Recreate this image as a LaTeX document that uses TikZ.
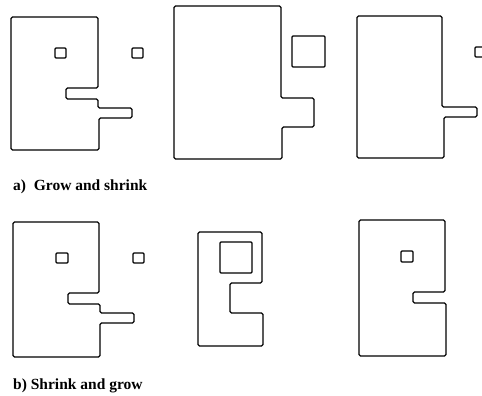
\documentclass[tikz,border=0pt]{standalone}
\usepackage{fontspec}
\setmainfont{Liberation Serif}
\usepackage{tikz}

\begin{document}
\begin{tikzpicture}[
  x=1pt, y=-1pt,
  region/.style  = {draw=black, line width=1.2pt, rounded corners=1.5pt},
  hole/.style    = {draw=black, line width=1.2pt, rounded corners=1pt},
  caption/.style = {anchor=base west, inner sep=0pt,
                    font=\fontsize{15.5}{18}\selectfont\bfseries}
]
\useasboundingbox (0,0) rectangle (482,396);

% a) grow and shrink
\draw[region] (11,17) -- (98,17) -- (98,88) -- (66,88) -- (66,99) -- (98,99)
  -- (98,108) -- (132,108) -- (132,118) -- (99,118) -- (99,150) -- (11,150) -- cycle;
\draw[hole] (55,48) rectangle (66,58);
\draw[hole] (132,48) rectangle (143,58);

\draw[region] (174,6) -- (281,6) -- (281,98) -- (314,98) -- (314,127)
  -- (282,127) -- (282,159) -- (174,159) -- cycle;
\draw[hole] (292,36) rectangle (325,67);

\draw[region] (357,16) -- (442,16) -- (442,107) -- (477,107) -- (477,117)
  -- (444,117) -- (444,158) -- (357,158) -- cycle;
\draw[hole] (475,47) rectangle (486,57);

\node[caption] (lbl-a) at (13,190) {a)\ \ Grow and shrink};

% b) shrink and grow
\draw[region] (13,222) -- (99,222) -- (99,293) -- (68,293) -- (68,304) -- (100,304)
  -- (100,313) -- (134,313) -- (134,323) -- (100,323) -- (100,357) -- (13,357) -- cycle;
\draw[hole] (56,253) rectangle (68,263);
\draw[hole] (133,253) rectangle (144,263);

\draw[region] (198,232) -- (262,232) -- (262,283) -- (230,283) -- (230,313)
  -- (263,313) -- (263,346) -- (198,346) -- cycle;
\draw[hole] (220,242) rectangle (252,273);

\draw[region] (359,220) -- (445,220) -- (445,292) -- (413,292) -- (413,303)
  -- (446,303) -- (446,356) -- (359,356) -- cycle;
\draw[hole] (401,251) rectangle (413,262);

\node[caption] (lbl-b) at (13,389) {b) Shrink and grow};
\end{tikzpicture}
\end{document}
